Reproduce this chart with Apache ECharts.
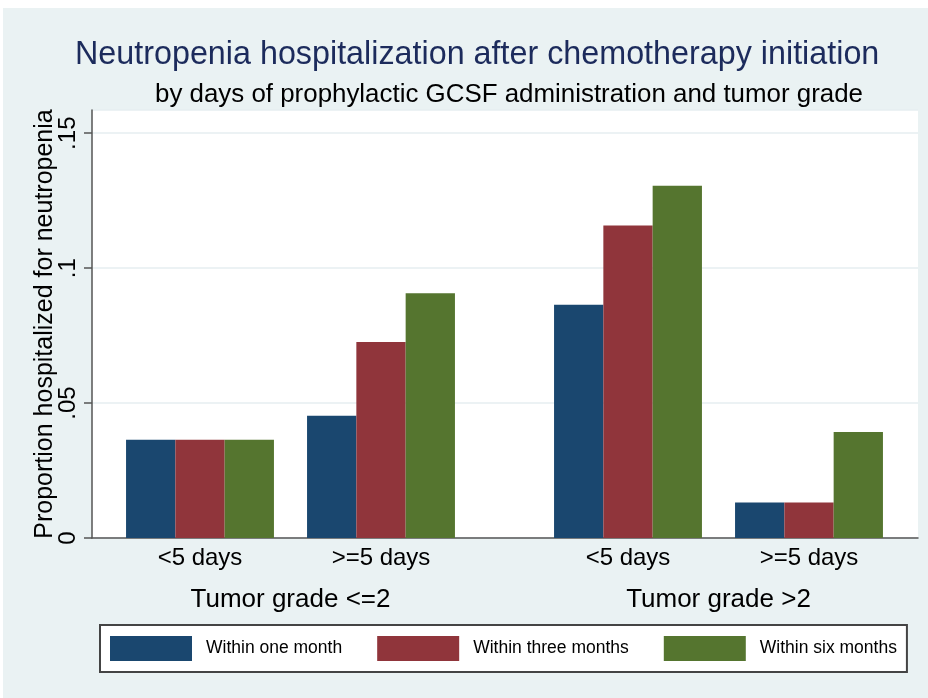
<!DOCTYPE html>
<html>
<head>
<meta charset="utf-8">
<script src="https://cdn.jsdelivr.net/npm/echarts@6/dist/echarts.min.js"></script>
<style>
  html, body { margin: 0; padding: 0; background: #fff; }
  #chart { width: 928px; height: 698px; }
</style>
</head>
<body>
<div id="chart"></div>
<script>
// categories
const days = ['<5 days', '>=5 days'];
const grades = ['Tumor grade <=2', 'Tumor grade >2'];
const periods = ['Within one month', 'Within three months', 'Within six months'];
// values, order: grade<=2 <5d, grade<=2 >=5d, grade>2 <5d, grade>2 >=5d
const oneMonth = [0.0364, 0.0453, 0.0864, 0.0132];
const threeMonths = [0.0364, 0.0726, 0.1158, 0.0132];
const sixMonths = [0.0364, 0.0907, 0.1305, 0.0393];
const yTicks = ['0', '.05', '.1', '.15'];

const colors = ['#1a476f', '#90353b', '#55752f'];
const font = 'Liberation Sans, Arial, sans-serif';
const yMax = 0.1586;

const chart = echarts.init(document.getElementById('chart'));

const barGrids = [
    { left: 109.5, width: 362 },
    { left: 537.5, width: 362 }
];

let xAxes = [{
    gridIndex: 0, type: 'category', data: [''],
    axisLine: { show: true, lineStyle: { color: '#555', width: 1.5 } },
    axisTick: { show: false }, axisLabel: { show: false }
}];
let yAxes = [{
    gridIndex: 0, type: 'value', min: 0, max: yMax, interval: 0.05,
    name: 'Proportion hospitalized for neutropenia',
    nameLocation: 'middle', nameGap: 34, nameMoveOverlap: false,
    nameTextStyle: { fontFamily: font, fontSize: 25, color: '#000' },
    axisLine: { show: true, lineStyle: { color: '#555', width: 1.5 } },
    axisTick: { show: true, length: 8, lineStyle: { color: '#555', width: 1.5 } },
    axisLabel: {
        rotate: 90, margin: 12, fontFamily: font, fontSize: 24, color: '#000',
        showMaxLabel: false,
        formatter: v => yTicks[Math.round(v / 0.05)] || ''
    },
    splitLine: { show: true, lineStyle: { color: '#e6eef1', width: 1.5 } }
}];
let grids = [{ left: 92, right: 10, top: 110, bottom: 160, show: true, backgroundColor: '#fff', borderWidth: 0 }];
let series = [];
const values = [oneMonth, threeMonths, sixMonths];

barGrids.forEach((g, gi) => {
    const gridIndex = gi + 1;
    grids.push({ left: g.left, width: g.width, top: 110, bottom: 160 });
    const xIdx = xAxes.length;
    xAxes.push({
        gridIndex, type: 'category', data: days,
        axisLine: { show: false }, axisTick: { show: false },
        axisLabel: { margin: 8, fontFamily: font, fontSize: 24, color: '#000' }
    });
    xAxes.push({
        gridIndex, type: 'category', data: [grades[gi]], position: 'bottom',
        axisLine: { show: false }, axisTick: { show: false },
        axisLabel: { margin: 49, fontFamily: font, fontSize: 26, color: '#000' }
    });
    const yIdx = yAxes.length;
    yAxes.push({ gridIndex, type: 'value', min: 0, max: yMax, show: false, splitLine: { show: false } });
    periods.forEach((p, pi) => {
        series.push({
            name: p, type: 'bar', xAxisIndex: xIdx, yAxisIndex: yIdx,
            barWidth: 49.3, barGap: '0%',
            itemStyle: { color: colors[pi] },
            data: values[pi].slice(gi * 2, gi * 2 + 2)
        });
    });
});

chart.setOption({
    animation: false,
    backgroundColor: '#fff',
    graphic: [{
        type: 'rect', z: -10, silent: true,
        shape: { x: 3, y: 8, width: 925, height: 690 },
        style: { fill: '#eaf2f3' }
    }],
    title: [{
        text: 'Neutropenia hospitalization after chemotherapy initiation',
        left: 70, top: 34,
        textStyle: { fontFamily: font, fontSize: 32.3, fontWeight: 'normal', color: '#1c2b5c' }
    }, {
        text: 'by days of prophylactic GCSF administration and tumor grade',
        left: 150, top: 77,
        textStyle: { fontFamily: font, fontSize: 25.9, fontWeight: 'normal', color: '#000' }
    }],
    legend: {
        data: periods,
        left: 100, top: 625,
        itemWidth: 82, itemHeight: 25, itemGap: 35,
        padding: [11, 10],
        backgroundColor: '#fff', borderColor: '#444', borderWidth: 2, borderRadius: 0,
        icon: 'rect',
        textStyle: { fontFamily: font, fontSize: 17.5, color: '#000', padding: [0, 0, 0, 9] }
    },
    grid: grids,
    xAxis: xAxes,
    yAxis: yAxes,
    series: series
});
</script>
</body>
</html>
